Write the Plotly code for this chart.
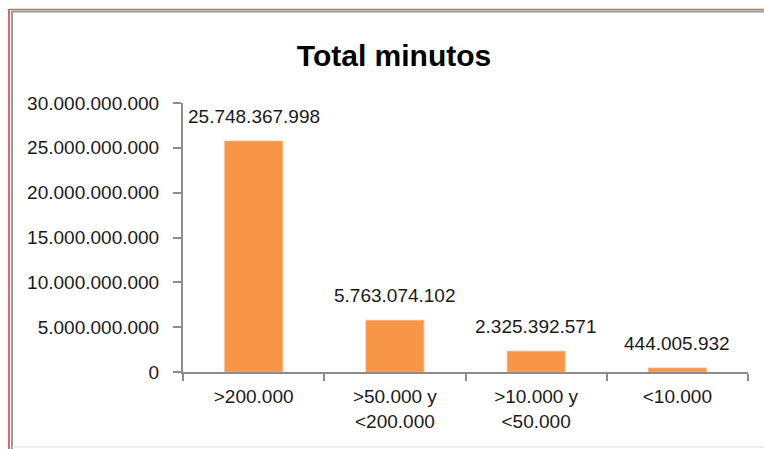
import plotly.graph_objects as go

categories = [">200.000", ">50.000 y<br><200.000", ">10.000 y<br><50.000", "<10.000"]
values = [25748367998, 5763074102, 2325392571, 444005932]
y_ticks = [0, 5e9, 10e9, 15e9, 20e9, 25e9, 30e9]

W, H = 764, 449
L, R, T, B = 183, 748, 103, 372

def px(x):
    return (x - L) / (R - L)

def py(y):
    return (B - y) / (B - T)

FONT = "Liberation Sans"

def fmt(v):
    return f"{v:,.0f}".replace(",", ".")

fig = go.Figure(go.Bar(
    x=categories, y=values,
    marker=dict(color="#F79646", line=dict(color="#FAB07A", width=0.8)),
    width=0.41,
    hoverinfo="x+y",
))

annotations = [
    dict(x=c, y=v, xref="x", yref="y", text=fmt(v), showarrow=False,
         xanchor="center", yanchor="bottom", yshift=12,
         font=dict(family=FONT, size=19, color="#1a1a1a"))
    for c, v in zip(categories, values)
]

shapes = [
    dict(type="line", xref="paper", yref="paper", x0=px(9), x1=px(9), y0=py(9), y1=py(449),
         line=dict(color="#D46A6A", width=2)),
    dict(type="line", xref="paper", yref="paper", x0=px(12), x1=px(12), y0=py(11), y1=py(449),
         line=dict(color="#9A9A9A", width=2)),
    dict(type="line", xref="paper", yref="paper", x0=px(9), x1=px(764), y0=py(9.5), y1=py(9.5),
         line=dict(color="#D46A6A", width=1.5)),
    dict(type="line", xref="paper", yref="paper", x0=px(11), x1=px(764), y0=py(11.5), y1=py(11.5),
         line=dict(color="#9A9A9A", width=2)),
    dict(type="line", xref="paper", yref="paper", x0=px(12), x1=px(764), y0=py(447), y1=py(447),
         line=dict(color="#DDDDDD", width=1)),
]

fig.update_layout(
    width=W, height=H,
    margin=dict(l=L, r=W - R, t=T, b=H - B, pad=0),
    paper_bgcolor="white", plot_bgcolor="white",
    separators=",.",
    showlegend=False,
    shapes=shapes,
    annotations=annotations,
    font=dict(family=FONT, size=19, color="#1a1a1a"),
    title=dict(text="<b>Total minutos</b>", x=px(394), xref="paper", xanchor="center",
               y=1 - 55 / H, yref="container", yanchor="middle",
               font=dict(family=FONT, size=30, color="black")),
    xaxis=dict(
        type="category", showgrid=False, showline=True, linecolor="#8C8C8C", linewidth=2,
        ticks="outside", tickson="boundaries", ticklen=7, tickcolor="#8C8C8C", tickwidth=2,
        ticklabelstandoff=6,
        tickfont=dict(family=FONT, size=19, color="#1a1a1a"),
    ),
    yaxis=dict(
        range=[0, 30e9], tickvals=y_ticks, tickformat=",.0f", showgrid=False,
        showline=True, linecolor="#8C8C8C", linewidth=2,
        ticks="outside", ticklen=8, tickcolor="#8C8C8C", tickwidth=2,
        ticklabelstandoff=10,
        tickfont=dict(family=FONT, size=19, color="#1a1a1a"), zeroline=False,
    ),
)

fig.write_html("out.html", config={"displayModeBar": False},
               post_script="document.body.style.margin='0';document.body.style.padding='0';")
